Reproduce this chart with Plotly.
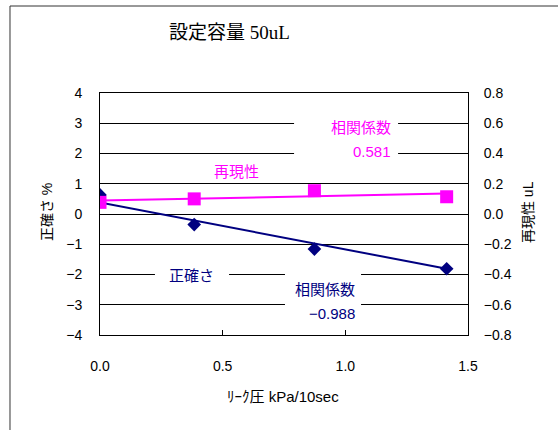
import plotly.graph_objects as go

# Leak pressure (kPa/10sec) at each test point
leak_pressure = [0.0, 0.384, 0.874, 1.413]
# Accuracy (%) - left axis
accuracy = [0.63, -0.35, -1.16, -1.81]
# Repeatability (uL) - right axis
repeatability = [0.077, 0.100, 0.154, 0.114]

# Trend lines over the measured range
trend_x = [0.0, 1.413]
accuracy_trend = [0.38, -1.81]
repeatability_trend = [0.089, 0.135]

# Correlation coefficients
r_accuracy = -0.988
r_repeat = 0.581

title_text = "設定容量 50uL"
x_title = "ﾘｰｸ圧 kPa/10sec"
y_title = "正確さ %"
y2_title = "再現性 uL"

NAVY = "#000080"
PINK = "#FF00FF"
FONT = "Liberation Sans, Noto Sans CJK JP, sans-serif"


def fmt(v):
    return f"{v:.3f}".replace("-", "\u2212")


fig = go.Figure()

fig.add_trace(go.Scatter(x=trend_x, y=accuracy_trend, mode="lines",
                         line=dict(color=NAVY, width=2), showlegend=False,
                         hoverinfo="skip"))
fig.add_trace(go.Scatter(x=leak_pressure, y=accuracy, mode="markers",
                         marker=dict(symbol="diamond", size=10.5, color=NAVY),
                         name="正確さ", showlegend=False))
fig.add_trace(go.Scatter(x=trend_x, y=repeatability_trend, mode="lines",
                         line=dict(color=PINK, width=2), yaxis="y2",
                         showlegend=False, hoverinfo="skip"))
fig.add_trace(go.Scatter(x=leak_pressure, y=repeatability, mode="markers",
                         marker=dict(symbol="square", size=13, color=PINK),
                         yaxis="y2", name="再現性", showlegend=False))

fig.update_layout(
    width=558, height=430,
    margin=dict(l=100, r=90, t=93, b=95),
    paper_bgcolor="white", plot_bgcolor="white",
    font=dict(family=FONT, size=14, color="black"),
    xaxis=dict(range=[0, 1.5], dtick=0.5, tickformat=".1f",
               showgrid=False, zeroline=False,
               showline=True, linecolor="black", linewidth=1, mirror=True,
               ticks="inside", ticklen=5, tickcolor="black",
               ticklabelstandoff=18, fixedrange=True),
    yaxis=dict(range=[-4, 4], dtick=1, showgrid=True, gridcolor="black",
               gridwidth=1, zeroline=False,
               showline=True, linecolor="black", linewidth=1,
               ticks="", ticklabelstandoff=14, fixedrange=True),
    yaxis2=dict(range=[-0.8, 0.8], dtick=0.2, tickformat=".1f",
                overlaying="y", side="right", showgrid=False, zeroline=False,
                showline=True, linecolor="black", linewidth=1,
                ticks="", ticklabelstandoff=12, fixedrange=True),
)

# White label boxes that interrupt the gridlines
for x0, x1, y0, y1 in [(0.791, 1.215, 1.5, 3.5),
                       (0.754, 1.064, -3.5, -1.6),
                       (0.224, 0.526, -2.4, -1.6)]:
    fig.add_shape(type="rect", xref="x", yref="y", x0=x0, x1=x1, y0=y0, y1=y1,
                  fillcolor="white", line=dict(width=0), layer="between")

# Outer chart frame
fig.add_shape(type="rect", xref="paper", yref="paper",
              x0=-0.2446, x1=1.4, y0=-0.5, y1=1.3595,
              line=dict(color="#333333", width=1), fillcolor="rgba(0,0,0,0)",
              layer="below")

ann = [
    dict(text=title_text, x=0.352, y=1.25,
         font=dict(family="Liberation Serif, Noto Sans CJK JP, serif", size=19)),
    dict(text=x_title, x=0.4965, y=-0.256, font=dict(size=15)),
    dict(text=y_title, x=-0.144, y=0.508, textangle=-90, font=dict(size=14)),
    dict(text=y2_title, x=1.163, y=0.508, textangle=-90, font=dict(size=14)),
]
for a in ann:
    fig.add_annotation(xref="paper", yref="paper", showarrow=False,
                       xanchor="center", yanchor="middle", **a)

labels = [
    ("再現性", 0.557, 1.42, "center", PINK),
    ("相関係数", 1.194, 2.87, "right", PINK),
    (fmt(r_repeat), 1.194, 2.08, "right", PINK),
    ("正確さ", 0.371, -2.03, "center", NAVY),
    ("相関係数", 1.046, -2.48, "right", NAVY),
    (fmt(r_accuracy), 1.046, -3.30, "right", NAVY),
]
for text, x, y, anchor, color in labels:
    fig.add_annotation(xref="x", yref="y", x=x, y=y, text=text,
                       showarrow=False, xanchor=anchor, yanchor="middle",
                       font=dict(size=15, color=color))

fig.write_html("out.html")
